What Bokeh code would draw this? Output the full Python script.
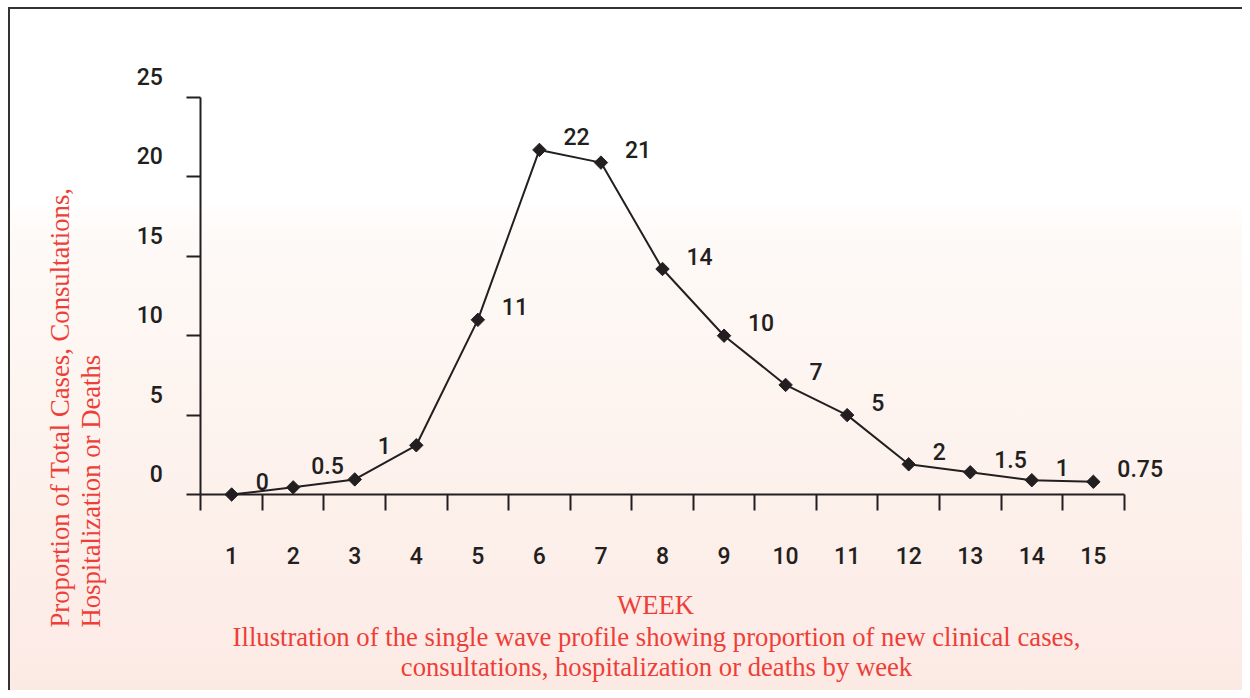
import numpy as np
from bokeh.plotting import figure
from bokeh.models import LinearAxis, FixedTicker, Label, ColumnDataSource, Range1d
from bokeh.core.properties import value
from bokeh.embed import file_html
from bokeh.resources import INLINE

# ---------------- data ----------------
weeks = list(range(1, 16))
proportion = [0, 0.45, 0.95, 3.1, 11, 21.7, 20.9, 14.2, 10, 6.9, 5, 1.9, 1.4, 0.9, 0.8]
point_labels = ["0", "0.5", "1", "", "11", "22", "21", "14", "10", "7", "5", "2", "1.5", "1", "0.75"]
x_tick_labels = [str(w) for w in weeks]
y_ticks = [0, 5, 10, 15, 20, 25]
y_tick_labels = ["0", "5", "10", "15", "20", "25"]
x_title = "WEEK"
caption = ["Illustration of the single wave profile showing proportion of new clinical cases,",
           "consultations, hospitalization or deaths by week"]
y_title = ["Proportion of Total Cases, Consultations,", "Hospitalization or Deaths"]

# ---------------- layout constants (canvas pixels) ----------------
W, H = 1242, 690
PX_X = 61.55          # pixels per week
PX_Y = 15.88          # pixels per unit
X8 = 662.0            # canvas x of week 8
Y0 = 494.0            # canvas y (from top) of value 0


def to_x(px):
    return 8 + (px - X8) / PX_X


def to_y(py):
    return (Y0 - py) / PX_Y


INK = "#231f20"
RED = "#ee3e38"
NUM_FONT = "Roboto Medium, Roboto"
SERIF = "Liberation Serif"
SERIF_SIZE = "26.7px"

p = figure(width=W, height=H, output_backend="svg", toolbar_location=None,
           x_range=Range1d(to_x(0), to_x(W)), y_range=Range1d(to_y(H), to_y(0)),
           x_axis_type=None, y_axis_type=None, min_border=0)
p.outline_line_color = None
p.grid.visible = False
p.background_fill_alpha = 0
p.border_fill_alpha = 0
p.styles = {
    "background-color": "#ffffff",
    "background-image": ("linear-gradient(#333333, #333333), linear-gradient(#333333, #333333), "
                         "linear-gradient(to bottom, #ffffff 0%, #ffffff 28%, #fefaf7 32%, "
                         "#fdf3ee 62%, #fce9e4 100%)"),
    "background-position": "8px 7px, 8px 7px, 10px 9px",
    "background-size": "2px 100%, 100% 2px, 100% 100%",
    "background-repeat": "no-repeat",
}

# ---------------- axes ----------------
boundaries = [w - 0.5 for w in weeks] + [weeks[-1] + 0.5]
xaxis = LinearAxis(fixed_location=0, bounds=(boundaries[0], boundaries[-1]),
                   ticker=FixedTicker(ticks=weeks, minor_ticks=boundaries),
                   major_label_overrides={w: l for w, l in zip(weeks, x_tick_labels)})
xaxis.axis_line_color = INK
xaxis.axis_line_width = 2
xaxis.major_tick_out = 0
xaxis.major_tick_in = 0
xaxis.minor_tick_out = 16
xaxis.minor_tick_in = 0
xaxis.minor_tick_line_color = INK
xaxis.minor_tick_line_width = 2
xaxis.major_label_standoff = 36
xaxis.major_label_text_font = NUM_FONT
xaxis.major_label_text_font_size = "23px"
xaxis.major_label_text_color = INK
p.add_layout(xaxis, "below")

yaxis = LinearAxis(fixed_location=boundaries[0], bounds=(y_ticks[0], y_ticks[-1]),
                   ticker=FixedTicker(ticks=y_ticks, minor_ticks=[]),
                   major_label_overrides={t: "" for t in y_ticks})
yaxis.axis_line_color = INK
yaxis.axis_line_width = 2
yaxis.major_tick_out = 14
yaxis.major_tick_in = 0
yaxis.major_tick_line_color = INK
yaxis.major_tick_line_width = 2
p.add_layout(yaxis, "left")

# tick labels of the y axis sit ~20px above their ticks
shift = 21 / PX_Y
shifted = [round(t + shift, 4) for t in y_ticks]
ylab = LinearAxis(fixed_location=boundaries[0],
                  ticker=FixedTicker(ticks=shifted, minor_ticks=[]),
                  major_label_overrides={s: l for s, l in zip(shifted, y_tick_labels)})
ylab.axis_line_alpha = 0
ylab.major_tick_line_alpha = 0
ylab.major_tick_out = 0
ylab.major_tick_in = 0
ylab.major_label_standoff = 38
ylab.major_label_text_font = NUM_FONT
ylab.major_label_text_font_size = "23px"
ylab.major_label_text_color = INK
p.add_layout(ylab, "left")

# ---------------- series ----------------
x_off = [24] * len(weeks)
y_off = [-13] * len(weeks)
x_off[1], y_off[1] = 18, -22
x_off[2], y_off[2] = 23, -34
src = ColumnDataSource(dict(x=weeks, y=proportion, lab=point_labels, xo=x_off, yo=y_off))

p.line("x", "y", source=src, line_color=INK, line_width=2)
p.scatter("x", "y", source=src, marker="square", angle=np.pi / 4, size=9.5,
          fill_color=INK, line_color=INK)
p.text("x", "y", text="lab", source=src, x_offset="xo", y_offset="yo",
       text_align="left", text_baseline="middle", text_color=INK,
       text_font=value(NUM_FONT), text_font_size="23px")

# ---------------- titles ----------------
p.add_layout(Label(x=to_x(655), y=to_y(604), text=x_title,
                   text_align="center", text_baseline="alphabetic", text_color=RED,
                   text_font=SERIF, text_font_size=SERIF_SIZE))
for txt, py in zip(caption, [636, 666]):
    p.add_layout(Label(x=to_x(656), y=to_y(py), text=txt,
                       text_align="center", text_baseline="alphabetic", text_color=RED,
                       text_font=SERIF, text_font_size=SERIF_SIZE))
for txt, px in zip(y_title, [59.5, 90.5]):
    p.add_layout(Label(x=to_x(px), y=to_y(627), text=txt,
                       angle=np.pi / 2, text_align="left", text_baseline="alphabetic",
                       text_color=RED, text_font=SERIF, text_font_size=SERIF_SIZE))

open("out.html", "w").write(file_html(p, INLINE))
